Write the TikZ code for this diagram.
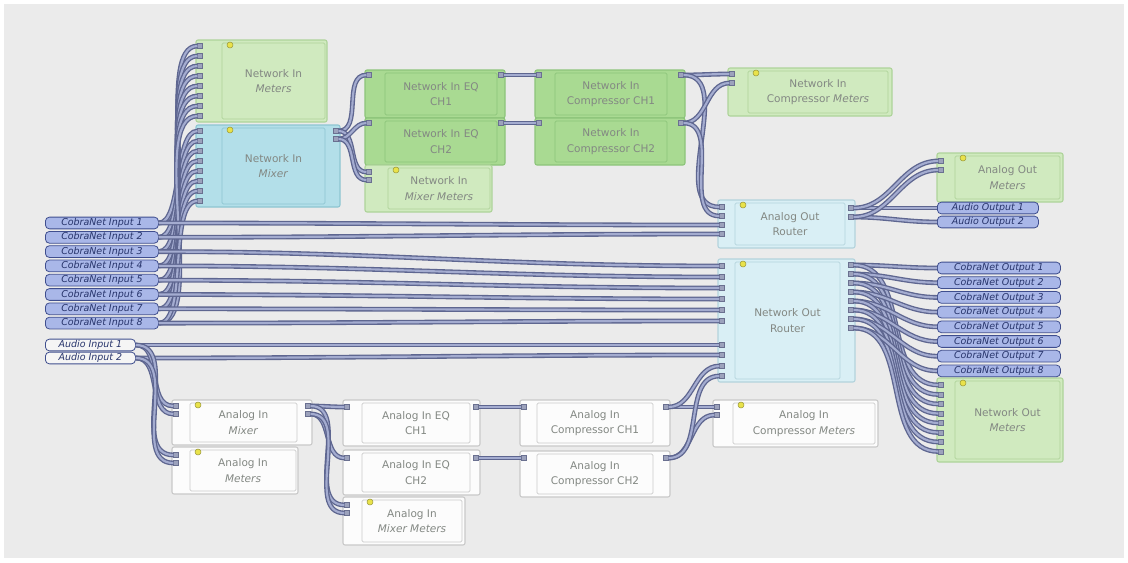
\documentclass[tikz,border=0pt]{standalone}
\usepackage{fontspec}
\setmainfont{DejaVu Sans}
\usetikzlibrary{calc}

\definecolor{bggray}{HTML}{EBEBEB}
\definecolor{gmfill}{HTML}{D0EABF}
\definecolor{gmedge}{HTML}{AED39A}
\definecolor{gpfill}{HTML}{A9DA92}
\definecolor{gpedge}{HTML}{8CC47A}
\definecolor{mxfill}{HTML}{B3DFE9}
\definecolor{mxedge}{HTML}{8EC5D1}
\definecolor{rtfill}{HTML}{D9EFF5}
\definecolor{rtedge}{HTML}{B3D3DC}
\definecolor{anfill}{HTML}{FCFCFC}
\definecolor{anedge}{HTML}{C9C9C9}
\definecolor{blocktext}{HTML}{838883}
\definecolor{tagfill}{HTML}{A9B7E8}
\definecolor{tagedge}{HTML}{3F4E8E}
\definecolor{tagtext}{HTML}{27346B}
\definecolor{wireedge}{HTML}{5E6690}
\definecolor{wirecore}{HTML}{A4ACD0}
\definecolor{jackfill}{HTML}{9CA2BC}
\definecolor{jackedge}{HTML}{6A7090}
\definecolor{dotfill}{HTML}{E9E24A}
\definecolor{dotedge}{HTML}{9C9A3A}

\tikzstyle{block} = [rectangle, rounded corners=1.5pt, line width=0.8pt, inner sep=0pt, outer sep=0pt]
\tikzstyle{blockin} = [rectangle, rounded corners=1pt, line width=0.5pt, inner sep=0pt, outer sep=0pt, align=center, text=blocktext, font=\fontsize{7.9}{11.5}\selectfont]
\tikzstyle{netmeter} = [fill=gmfill, draw=gmedge]
\tikzstyle{netproc} = [fill=gpfill, draw=gpedge]
\tikzstyle{netmix} = [fill=mxfill, draw=mxedge]
\tikzstyle{router} = [fill=rtfill, draw=rtedge]
\tikzstyle{analog} = [fill=anfill, draw=anedge]
\tikzstyle{ydot} = [circle, fill=dotfill, draw=dotedge, line width=0.4pt, minimum size=4.5pt, inner sep=0pt]
\tikzstyle{tag} = [rectangle, rounded corners=3pt, anchor=west, fill=tagfill, draw=tagedge, line width=0.6pt, minimum height=8.8pt, inner sep=0pt, text=tagtext, font=\fontsize{7.1}{7.5}\selectfont\itshape]
\tikzstyle{audiotag} = [fill=white!96!black]
\tikzstyle{jack} = [rectangle, fill=jackfill, draw=jackedge, line width=0.3pt, minimum size=3.6pt, inner sep=0pt]
\tikzstyle{wire} = [draw=wireedge, line width=1pt, double=wirecore, double distance=1.6pt, out=0, in=180]

\begin{document}
\begin{tikzpicture}[x=0.75pt,y=-0.75pt]
  \useasboundingbox (0,0) rectangle (1128,562);
  \fill[white] (0,0) rectangle (1128,562);
  \fill[bggray] (4,4) rectangle (1124,558);

  % blocks
  \foreach \name/\lx/\ty/\rx/\by/\il/\ir/\kind/\hasdot/\txt in {
    nimet/196/40/327/122/222/325/netmeter/1/{Network In\\\textit{Meters}},
    nimix/196/125/340/207/222/325/netmix/1/{Network In\\\textit{Mixer}},
    neq1/365/70/505/118/385/497/netproc/0/{Network In EQ\\CH1},
    neq2/365/118/505/165/385/497/netproc/0/{Network In EQ\\CH2},
    nmm/365/165/492/212/388/490/netmeter/1/{Network In\\\textit{Mixer Meters}},
    ncp1/535/70/685/118/555/667/netproc/0/{Network In\\Compressor CH1},
    ncp2/535/118/685/165/555/667/netproc/0/{Network In\\Compressor CH2},
    ncm/728/68/892/116/748/888/netmeter/1/{Network In\\Compressor \textit{Meters}},
    aom/937/153/1063/202/955/1060/netmeter/1/{Analog Out\\\textit{Meters}},
    aor/718/200/855/248/735/845/router/1/{Analog Out\\Router},
    nor/718/259/855/382/735/840/router/1/{Network Out\\Router},
    nom/937/378/1063/462/955/1060/netmeter/1/{Network Out\\\textit{Meters}},
    aimx/172/400/312/445/190/297/analog/1/{Analog In\\\textit{Mixer}},
    aimt/172/447/298/494/190/296/analog/1/{Analog In\\\textit{Meters}},
    aeq1/343/400/480/446/362/470/analog/0/{Analog In EQ\\CH1},
    aeq2/343/450/480/495/362/470/analog/0/{Analog In EQ\\CH2},
    amm/343/497/465/545/362/462/analog/1/{Analog In\\\textit{Mixer Meters}},
    acp1/520/400/670/446/537/653/analog/0/{Analog In\\Compressor CH1},
    acp2/520/451/670/497/537/653/analog/0/{Analog In\\Compressor CH2},
    acm/713/400/878/447/733/875/analog/1/{Analog In\\Compressor \textit{Meters}}}
  {
    \node[block, \kind, minimum width={(\rx-\lx)*0.75pt}, minimum height={(\by-\ty)*0.75pt}] (\name) at ({(\lx+\rx)/2},{(\ty+\by)/2}) {};
    \node[blockin, \kind, minimum width={(\ir-\il)*0.75pt}, minimum height={(\by-\ty-6)*0.75pt}] (\name-in) at ({(\il+\ir)/2},{(\ty+\by)/2}) {\txt};
    \ifnum\hasdot=1 \node[ydot] (\name-dot) at ({\il+8},{\ty+5}) {}; \fi
  };

  % input and output tags
  \foreach \i in {1,...,8}
  {
    \node[tag, minimum width=84.75pt] (cin\i) at (45,{223+(\i-1)*14.3}) {CobraNet Input \i};
    \node[tag, minimum width=92.25pt] (cout\i) at (937,{268+(\i-1)*14.7}) {CobraNet Output \i};
  };
  \foreach \i in {1,2}
  {
    \node[tag, audiotag, minimum width=67.5pt] (ain\i) at (45,{345+(\i-1)*13}) {Audio Input \i};
    \node[tag, minimum width=75.75pt] (aout\i) at (937,{208+(\i-1)*14}) {Audio Output \i};
  };

  % jacks
  \foreach \i in {1,...,8}
  {
    \node[jack] (nimet-i\i) at ($(nimet.north west)+(4,{6+(\i-1)*10})$) {};
    \node[jack] (nimix-i\i) at ($(nimix.north west)+(4,{6+(\i-1)*10})$) {};
    \node[jack] (nor-o\i) at ($(nor.north east)+(-4,{6+(\i-1)*9})$) {};
    \node[jack] (nom-i\i) at ($(nom.north west)+(4,{7+(\i-1)*9.5})$) {};
  };
  \foreach \i/\dy in {1/7, 2/18, 3/29, 4/40, 5/51, 6/62, 7/86, 8/96, 9/107, 10/117}
    \node[jack] (nor-i\i) at ($(nor.north west)+(4,\dy)$) {};
  \foreach \i in {1,...,4}
    \node[jack] (aor-i\i) at ($(aor.north west)+(4,{7+(\i-1)*9})$) {};
  \foreach \pname/\blk/\side/\dx/\dy in {
    nimix-o1/nimix/north east/-4/6, nimix-o2/nimix/north east/-4/14,
    neq1-i/neq1/north west/4/5, neq1-o/neq1/north east/-4/5,
    neq2-i/neq2/north west/4/5, neq2-o/neq2/north east/-4/5,
    nmm-i1/nmm/north west/4/7, nmm-i2/nmm/north west/4/15,
    ncp1-i/ncp1/north west/4/5, ncp1-o/ncp1/north east/-4/5,
    ncp2-i/ncp2/north west/4/5, ncp2-o/ncp2/north east/-4/5,
    ncm-i1/ncm/north west/4/6, ncm-i2/ncm/north west/4/15,
    aor-o1/aor/north east/-4/8, aor-o2/aor/north east/-4/17,
    aom-i1/aom/north west/4/8, aom-i2/aom/north west/4/17,
    aimx-i1/aimx/north west/4/6, aimx-i2/aimx/north west/4/14,
    aimx-o1/aimx/north east/-4/6, aimx-o2/aimx/north east/-4/14,
    aimt-i1/aimt/north west/4/8, aimt-i2/aimt/north west/4/16,
    aeq1-i/aeq1/north west/4/7, aeq1-o/aeq1/north east/-4/7,
    aeq2-i/aeq2/north west/4/8, aeq2-o/aeq2/north east/-4/8,
    amm-i1/amm/north west/4/8, amm-i2/amm/north west/4/16,
    acp1-i/acp1/north west/4/7, acp1-o/acp1/north east/-4/7,
    acp2-i/acp2/north west/4/7, acp2-o/acp2/north east/-4/7,
    acm-i1/acm/north west/4/7, acm-i2/acm/north west/4/15}
  {
    \node[jack] (\pname) at ($(\blk.\side)+(\dx,\dy)$) {};
  };

  % wires
  \path
  \foreach \i in {1,...,8}
  {
    (cin\i) edge[wire, looseness=0.6] (nimet-i\i)
    (cin\i) edge[wire, looseness=0.6] (nimix-i\i)
    (nor-o\i) edge[wire] (cout\i)
    (nor-o\i) edge[wire] (nom-i\i)
  };
  \path
  \foreach \startnode/\endnode in {
    cin1/aor-i3, cin2/aor-i4, cin3/nor-i1, cin4/nor-i2, cin5/nor-i3, cin6/nor-i4,
    cin7/nor-i5, cin8/nor-i6, ain1/nor-i7, ain2/nor-i8,
    nimix-o1/neq1-i, nimix-o1/nmm-i1, nimix-o2/neq2-i, nimix-o2/nmm-i2,
    neq1-o/ncp1-i, neq2-o/ncp2-i,
    ncp1-o/ncm-i1, ncp1-o/aor-i1, ncp2-o/ncm-i2, ncp2-o/aor-i2,
    aor-o1/aout1, aor-o1/aom-i1, aor-o2/aout2, aor-o2/aom-i2,
    ain1/aimx-i1, ain1/aimt-i1, ain2/aimx-i2, ain2/aimt-i2,
    aimx-o1/aeq1-i, aimx-o1/amm-i1, aimx-o2/aeq2-i, aimx-o2/amm-i2,
    aeq1-o/acp1-i, aeq2-o/acp2-i,
    acp1-o/acm-i1, acp1-o/nor-i9, acp2-o/acm-i2, acp2-o/nor-i10}
  {
    (\startnode) edge[wire] (\endnode)
  };
\end{tikzpicture}
\end{document}
